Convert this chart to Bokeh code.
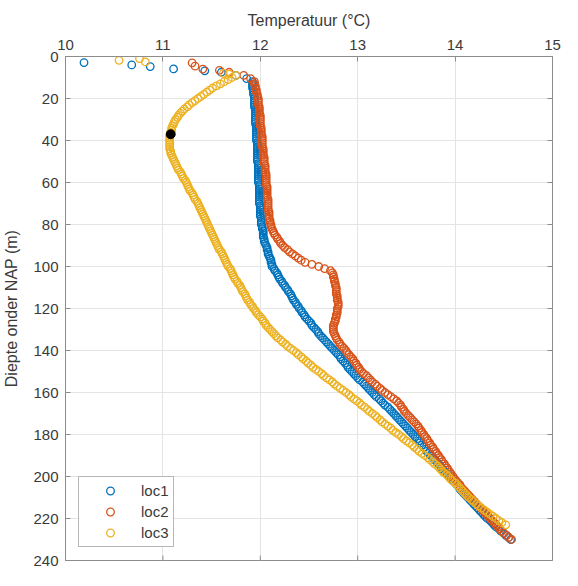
from bokeh.plotting import figure
from bokeh.models import Range1d, FixedTicker, Legend, LegendItem
from bokeh.embed import file_html
from bokeh.resources import INLINE
import math

# ---------------- data ----------------
x_ticks = [10, 11, 12, 13, 14, 15]
y_ticks = [0, 20, 40, 60, 80, 100, 120, 140, 160, 180, 200, 220, 240]

# shallow scattered points near the surface
loc1_top_depth = [2.9, 4.0, 4.8, 5.9, 6.8, 7.5, 9.0, 10.5]
loc1_top_temp = [10.19, 10.68, 10.87, 11.11, 11.43, 11.60, 11.75, 11.86]
loc2_top_depth = [3.0, 4.6, 6.0, 6.6, 7.5, 9.0, 10.5]
loc2_top_temp = [11.30, 11.33, 11.41, 11.58, 11.68, 11.83, 11.90]
loc3_top_depth = [1.8, 1.0, 2.6, 8.0, 8.4]
loc3_top_temp = [10.55, 10.76, 10.82, 11.62, 11.68]

# depth samples of loc1 / loc2 profiles (m) - even depths
depth_main = [12, 14, 16, 18, 20, 22, 24, 26, 28, 30, 32, 34, 36, 38, 40, 42, 44, 46, 48, 50,
              52, 54, 56, 58, 60, 62, 64, 66, 68, 70, 72, 74, 76, 78, 80, 82, 84, 86, 88, 90,
              92, 94, 96, 98, 100, 102, 104, 106, 108, 110, 112, 114, 116, 118, 120, 122, 124,
              126, 128, 130, 132, 134, 136, 138, 140, 142, 144, 146, 148, 150, 152, 154, 156,
              158, 160, 162, 164, 166, 168, 170, 172, 174, 176, 178, 180, 182, 184, 186, 188,
              190, 192, 194, 196, 198, 200, 202, 204, 206, 208, 210, 212, 214, 216, 218, 220,
              222, 224, 226, 228, 230]

loc1_temp = [11.92, 11.92, 11.93, 11.93, 11.94, 11.94, 11.94, 11.95, 11.95, 11.95, 11.95, 11.96,
             11.96, 11.96, 11.96, 11.97, 11.97, 11.97, 11.97, 11.97, 11.98, 11.98, 11.98, 11.98,
             11.98, 11.99, 11.99, 11.99, 11.99, 11.99, 12.00, 12.00, 12.00, 12.01, 12.01, 12.02,
             12.03, 12.03, 12.04, 12.06, 12.07, 12.08, 12.10, 12.11, 12.12, 12.15, 12.18, 12.20,
             12.23, 12.26, 12.29, 12.32, 12.34, 12.37, 12.40, 12.43, 12.46, 12.50, 12.53, 12.57,
             12.60, 12.64, 12.68, 12.72, 12.76, 12.80, 12.83, 12.87, 12.90, 12.94, 12.98, 13.02,
             13.07, 13.11, 13.15, 13.19, 13.24, 13.28, 13.33, 13.37, 13.41, 13.45, 13.49, 13.53,
             13.57, 13.61, 13.64, 13.68, 13.71, 13.75, 13.79, 13.83, 13.86, 13.90, 13.94, 13.98,
             14.02, 14.05, 14.09, 14.13, 14.17, 14.21, 14.25, 14.29, 14.33, 14.38, 14.42, 14.47,
             14.52, 14.57]

loc2_temp = [11.94, 11.95, 11.96, 11.97, 11.98, 11.98, 11.99, 11.99, 12.00, 12.00, 12.00, 12.01,
             12.01, 12.02, 12.02, 12.02, 12.03, 12.03, 12.04, 12.04, 12.05, 12.05, 12.06, 12.06,
             12.06, 12.07, 12.07, 12.07, 12.08, 12.08, 12.08, 12.09, 12.09, 12.10, 12.11, 12.12,
             12.14, 12.17, 12.20, 12.23, 12.28, 12.33, 12.39, 12.46, 12.60, 12.72, 12.75, 12.76,
             12.77, 12.78, 12.78, 12.79, 12.79, 12.80, 12.79, 12.79, 12.78, 12.77, 12.75, 12.75,
             12.76, 12.78, 12.81, 12.84, 12.88, 12.91, 12.95, 12.98, 13.01, 13.04, 13.09, 13.13,
             13.18, 13.23, 13.28, 13.34, 13.40, 13.44, 13.47, 13.50, 13.54, 13.58, 13.62, 13.65,
             13.68, 13.71, 13.74, 13.77, 13.80, 13.83, 13.86, 13.89, 13.92, 13.95, 13.98, 14.01,
             14.05, 14.08, 14.12, 14.16, 14.20, 14.24, 14.28, 14.32, 14.36, 14.40, 14.44, 14.48,
             14.53, 14.58]

# odd depths of loc1 / loc2 profiles (m)
depth_main_odd = [13, 15, 17, 19, 21, 23, 25, 27, 29, 31,
                  33, 35, 37, 39, 41, 43, 45, 47, 49, 51,
                  53, 55, 57, 59, 61, 63, 65, 67, 69, 71,
                  73, 75, 77, 79, 81, 83, 85, 87, 89, 91,
                  93, 95, 97, 99, 101, 103, 105, 107, 109, 111,
                  113, 115, 117, 119, 121, 123, 125, 127, 129, 131,
                  133, 135, 137, 139, 141, 143, 145, 147, 149, 151,
                  153, 155, 157, 159, 161, 163, 165, 167, 169, 171,
                  173, 175, 177, 179, 181, 183, 185, 187, 189, 191,
                  193, 195, 197, 199, 201, 203, 205, 207, 209, 211,
                  213, 215, 217, 219, 221, 223, 225, 227, 229]

loc1_temp_odd = [11.92, 11.92, 11.93, 11.94, 11.94, 11.94, 11.95, 11.95, 11.95, 11.95,
                 11.96, 11.96, 11.96, 11.96, 11.97, 11.97, 11.97, 11.97, 11.97, 11.98,
                 11.98, 11.98, 11.98, 11.98, 11.99, 11.99, 11.99, 11.99, 11.99, 12.00,
                 12.00, 12.00, 12.01, 12.01, 12.02, 12.03, 12.03, 12.04, 12.05, 12.07,
                 12.08, 12.09, 12.11, 12.12, 12.14, 12.17, 12.19, 12.22, 12.25, 12.28,
                 12.31, 12.33, 12.36, 12.39, 12.42, 12.45, 12.48, 12.52, 12.55, 12.59,
                 12.62, 12.66, 12.70, 12.74, 12.78, 12.82, 12.85, 12.89, 12.92, 12.96,
                 13.00, 13.05, 13.09, 13.13, 13.17, 13.22, 13.26, 13.31, 13.35, 13.39,
                 13.43, 13.47, 13.51, 13.55, 13.59, 13.63, 13.66, 13.70, 13.73, 13.77,
                 13.81, 13.85, 13.88, 13.92, 13.96, 14.00, 14.04, 14.07, 14.11, 14.15,
                 14.19, 14.23, 14.27, 14.31, 14.36, 14.40, 14.45, 14.50, 14.55]

loc2_temp_odd = [11.94, 11.95, 11.96, 11.97, 11.98, 11.98, 11.99, 11.99, 12.00, 12.00,
                 12.00, 12.01, 12.01, 12.02, 12.02, 12.02, 12.03, 12.03, 12.04, 12.04,
                 12.05, 12.05, 12.06, 12.06, 12.06, 12.07, 12.07, 12.07, 12.08, 12.08,
                 12.08, 12.09, 12.09, 12.10, 12.11, 12.13, 12.15, 12.18, 12.21, 12.25,
                 12.30, 12.36, 12.42, 12.53, 12.66, 12.74, 12.75, 12.76, 12.77, 12.78,
                 12.78, 12.79, 12.80, 12.80, 12.79, 12.78, 12.77, 12.76, 12.75, 12.75,
                 12.77, 12.79, 12.82, 12.86, 12.89, 12.93, 12.96, 12.99, 13.02, 13.06,
                 13.11, 13.15, 13.20, 13.25, 13.31, 13.37, 13.42, 13.45, 13.48, 13.52,
                 13.56, 13.60, 13.63, 13.66, 13.69, 13.72, 13.75, 13.78, 13.81, 13.84,
                 13.87, 13.90, 13.93, 13.96, 13.99, 14.03, 14.06, 14.10, 14.14, 14.18,
                 14.22, 14.26, 14.30, 14.34, 14.38, 14.42, 14.46, 14.50, 14.55]

# depth samples of loc3 profile (m) - odd depths
depth_loc3 = [9, 11, 13, 15, 17, 19, 21, 23, 25, 27, 29, 31, 33, 35, 37, 39, 41, 43, 45, 47,
              49, 51, 53, 55, 57, 59, 61, 63, 65, 67, 69, 71, 73, 75, 77, 79, 81, 83, 85, 87,
              89, 91, 93, 95, 97, 99, 101, 103, 105, 107, 109, 111, 113, 115, 117, 119, 121,
              123, 125, 127, 129, 131, 133, 135, 137, 139, 141, 143, 145, 147, 149, 151, 153,
              155, 157, 159, 161, 163, 165, 167, 169, 171, 173, 175, 177, 179, 181, 183, 185,
              187, 189, 191, 193, 195, 197, 199, 201, 203, 205, 207, 209, 211, 213, 215, 217,
              219, 221, 223]

loc3_temp = [11.75, 11.67, 11.59, 11.51, 11.45, 11.39, 11.33, 11.27, 11.22, 11.18, 11.15, 11.12,
             11.10, 11.09, 11.08, 11.07, 11.07, 11.07, 11.08, 11.09, 11.11, 11.13, 11.15, 11.18,
             11.20, 11.23, 11.25, 11.27, 11.30, 11.32, 11.35, 11.37, 11.39, 11.41, 11.43, 11.45,
             11.47, 11.49, 11.51, 11.53, 11.55, 11.57, 11.60, 11.62, 11.64, 11.66, 11.69, 11.71,
             11.73, 11.76, 11.79, 11.81, 11.84, 11.86, 11.89, 11.92, 11.95, 11.98, 12.02, 12.05,
             12.08, 12.12, 12.16, 12.21, 12.26, 12.31, 12.37, 12.42, 12.47, 12.52, 12.57, 12.63,
             12.68, 12.74, 12.79, 12.85, 12.91, 12.96, 13.02, 13.07, 13.12, 13.18, 13.23, 13.28,
             13.34, 13.39, 13.45, 13.50, 13.56, 13.61, 13.66, 13.72, 13.77, 13.82, 13.86, 13.91,
             13.95, 14.00, 14.04, 14.08, 14.12, 14.17, 14.22, 14.27, 14.33, 14.39, 14.45, 14.52]

# even depths of loc3 profile (m)
depth_loc3_even = [10, 12, 14, 16, 18, 20, 22, 24, 26, 28,
                   30, 32, 34, 36, 38, 40, 42, 44, 46, 48,
                   50, 52, 54, 56, 58, 60, 62, 64, 66, 68,
                   70, 72, 74, 76, 78, 80, 82, 84, 86, 88,
                   90, 92, 94, 96, 98, 100, 102, 104, 106, 108,
                   110, 112, 114, 116, 118, 120, 122, 124, 126, 128,
                   130, 132, 134, 136, 138, 140, 142, 144, 146, 148,
                   150, 152, 154, 156, 158, 160, 162, 164, 166, 168,
                   170, 172, 174, 176, 178, 180, 182, 184, 186, 188,
                   190, 192, 194, 196, 198, 200, 202, 204, 206, 208,
                   210, 212, 214, 216, 218, 220, 222]

loc3_temp_even = [11.71, 11.63, 11.55, 11.48, 11.42, 11.36, 11.30, 11.25, 11.20, 11.16,
                  11.13, 11.11, 11.09, 11.08, 11.07, 11.07, 11.07, 11.07, 11.08, 11.10,
                  11.12, 11.14, 11.16, 11.19, 11.21, 11.24, 11.26, 11.28, 11.31, 11.33,
                  11.36, 11.38, 11.40, 11.42, 11.44, 11.46, 11.48, 11.50, 11.52, 11.54,
                  11.56, 11.58, 11.61, 11.63, 11.65, 11.67, 11.70, 11.72, 11.74, 11.77,
                  11.80, 11.82, 11.85, 11.87, 11.90, 11.93, 11.96, 12.00, 12.03, 12.06,
                  12.10, 12.14, 12.18, 12.23, 12.28, 12.34, 12.39, 12.44, 12.49, 12.54,
                  12.60, 12.65, 12.71, 12.76, 12.82, 12.88, 12.93, 12.99, 13.04, 13.10,
                  13.15, 13.20, 13.25, 13.31, 13.36, 13.42, 13.47, 13.53, 13.58, 13.63,
                  13.69, 13.74, 13.79, 13.84, 13.88, 13.93, 13.97, 14.02, 14.06, 14.10,
                  14.14, 14.19, 14.24, 14.30, 14.36, 14.42, 14.48]

marker_temp = [11.08]
marker_depth = [37]

series_names = ["loc1", "loc2", "loc3"]
series_colors = ["#0072BD", "#D95319", "#EDB120"]

# ---------------- figure ----------------
FONT = "Liberation Sans"
TXT = "#3a3a3a"
AX = "#8c8c8c"

x_lo, x_hi = x_ticks[0], x_ticks[-1]
y_top, y_bot = y_ticks[0], y_ticks[-1]

p = figure(width=562, height=570, output_backend="svg", toolbar_location=None,
           x_range=Range1d(x_lo, x_hi), y_range=Range1d(y_bot, y_top), x_axis_location="above",
           min_border_left=65, min_border_right=10, min_border_top=56, min_border_bottom=10,
           background_fill_color="white", border_fill_color="white")

p.outline_line_color = AX
p.outline_line_width = 1

xa = p.xaxis[0]
ya = p.yaxis[0]
xa.axis_label = "Temperatuur (°C)"
ya.axis_label = "Diepte onder NAP (m)"
xa.ticker = FixedTicker(ticks=x_ticks)
ya.ticker = FixedTicker(ticks=y_ticks)
for ax in (xa, ya):
    ax.axis_label_text_font = FONT
    ax.axis_label_text_font_size = "16px"
    ax.axis_label_text_font_style = "normal"
    ax.axis_label_text_color = TXT
    ax.major_label_text_font = FONT
    ax.major_label_text_font_size = "15px"
    ax.major_label_text_color = TXT
    ax.axis_line_color = AX
    ax.major_tick_line_color = AX
    ax.major_tick_in = 5
    ax.major_tick_out = 0
    ax.minor_tick_line_color = None
xa.major_label_standoff = 7
xa.axis_label_standoff = 8
ya.major_label_standoff = 7
ya.axis_label_standoff = 10

p.xgrid.ticker = FixedTicker(ticks=x_ticks)
p.ygrid.ticker = FixedTicker(ticks=y_ticks)
p.xgrid.grid_line_color = "#e4e4e4"
p.ygrid.grid_line_color = "#e4e4e4"

# box tick marks on the right and bottom edges (half of each dash is clipped by the frame)
p.scatter([x_hi] * len(y_ticks), y_ticks, marker="dash", size=10,
          line_color=AX, line_width=1)
p.scatter(x_ticks, [y_bot] * len(x_ticks), marker="dash", size=10, angle=math.pi / 2,
          line_color=AX, line_width=1)

# ---------------- glyphs ----------------
d1 = loc1_top_depth + depth_main + depth_main_odd
t1 = loc1_top_temp + loc1_temp + loc1_temp_odd
d2 = loc2_top_depth + depth_main + depth_main_odd
t2 = loc2_top_temp + loc2_temp + loc2_temp_odd
d3 = loc3_top_depth + depth_loc3 + depth_loc3_even
t3 = loc3_top_temp + loc3_temp + loc3_temp_even

renderers = []
for (tt, dd), col in zip([(t1, d1), (t2, d2), (t3, d3)], series_colors):
    r = p.scatter(tt, dd, marker="circle", size=7.5, fill_color=None,
                  line_color=col, line_width=1.3)
    renderers.append(r)

p.scatter(marker_temp, marker_depth, marker="circle", size=9,
          fill_color="black", line_color="black")

legend = Legend(items=[LegendItem(label=n, renderers=[r]) for n, r in zip(series_names, renderers)],
                location="bottom_left", margin=13, padding=4, spacing=2,
                glyph_width=54, glyph_height=19, label_height=19, label_standoff=4,
                label_text_font=FONT, label_text_font_size="15px", label_text_color=TXT,
                border_line_color="#6e6e6e", border_line_width=1,
                background_fill_color="white", background_fill_alpha=1)
p.add_layout(legend)

open("out.html", "w").write(file_html(p, INLINE))
